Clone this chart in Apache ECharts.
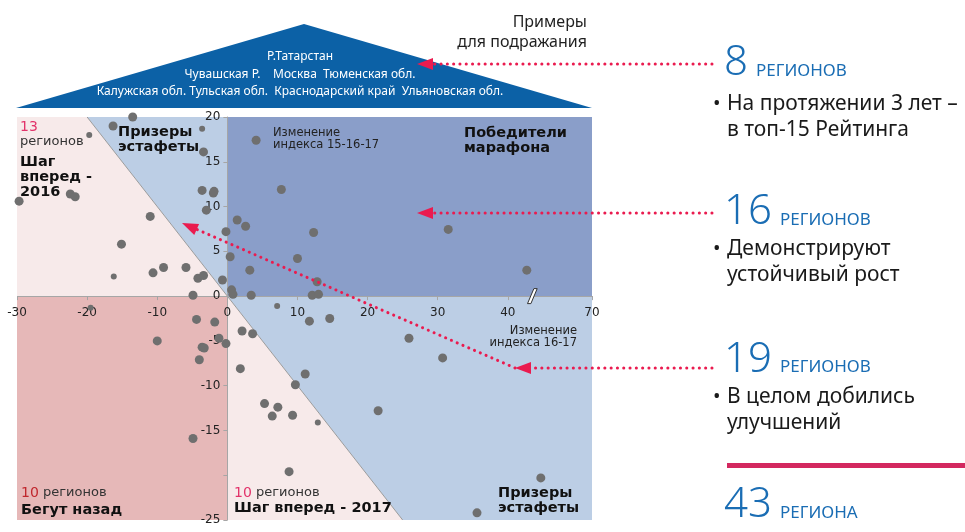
<!DOCTYPE html>
<html>
<head>
<meta charset="utf-8">
<script src="https://cdn.jsdelivr.net/npm/echarts@6/dist/echarts.min.js"></script>
<style>
  html, body { margin: 0; padding: 0; background: #ffffff; }
  #chart { width: 965px; height: 532px; }
</style>
</head>
<body>
<div id="chart"></div>
<script>
// Axis ranges: x = change of the index 2016-17, y = change of the index 2015-16-17
const xRange = [-30, 70];
const xStep = 10;
const xTickValues = [-30, -20, -10, 0, 10, 20, 30, 40, 70];
const yRange = [-25, 20];
const yStep = 5;
const xBreak = [43.5, 61.5];

// One dot per region: [change 16-17, change 15-16-17]
const regionDots = [
  [-13.5, 20.0], [-16.3, 19.0], [-3.4, 16.1], [4.1, 17.4], [-29.7, 10.6],
  [-22.4, 11.4], [-21.7, 11.1], [-3.6, 11.8], [-2.0, 11.5], [-1.9, 11.7],
  [7.7, 11.9], [-3.0, 9.6], [-11.0, 8.9], [1.4, 8.5], [2.6, 7.8],
  [-0.2, 7.2], [12.3, 7.1], [-15.1, 5.8], [0.4, 4.4], [10.0, 4.2],
  [-10.6, 2.6], [-9.1, 3.2], [-5.9, 3.2], [-4.2, 2.0], [-3.4, 2.3],
  [-0.7, 1.8], [3.2, 2.9], [0.6, 0.7], [0.8, 0.2], [3.4, 0.1],
  [-4.9, 0.1], [12.1, 0.1], [13.0, 0.2], [12.8, 1.6], [31.5, 7.45],
  [42.7, 2.9], [-4.4, -2.6], [-1.8, -2.9], [-10.0, -5.0], [-1.2, -4.7],
  [-0.2, -5.3], [-3.6, -5.7], [-3.3, -5.8], [-4.0, -7.1], [2.1, -3.9],
  [3.6, -4.2], [1.85, -8.1], [11.7, -2.8], [11.1, -8.7], [9.7, -9.9],
  [5.3, -12.0], [7.2, -12.4], [6.4, -13.4], [9.3, -13.3], [8.8, -19.6],
  [-4.9, -15.9], [14.6, -2.5], [25.9, -4.7], [30.7, -6.9], [21.5, -12.8],
  [62.7, -20.3], [35.6, -24.2]
];
const regionDotsMinor = [
  [-19.7, 18.0], [-3.6, 18.7], [-16.2, 2.2], [7.1, -1.1], [-19.5, -1.3], [12.9, -14.1]
];

// Background zones in data units
const zoneStep2016 = [[-30, 20], [-20, 20], [0, 0], [-30, 0]];
const zoneRelayTop = [[-20, 20], [0, 20], [0, 0]];
const zoneMarathon = [[0, 20], [70, 20], [70, 0], [0, 0]];
const zoneBackward = [[-30, 0], [0, 0], [0, -25], [-30, -25]];
const zoneStep2017 = [[0, 0], [25, -25], [0, -25]];
const zoneRelayBottom = [[0, 0], [70, 0], [70, -25], [25, -25]];
const diagonal = [[-20, 20], [25, -25]];

// Roof with the model regions
const roofRows = [
  'Р.Татарстан',
  'Чувашская Р.    Москва  Тюменская обл.',
  'Калужская обл. Тульская обл.  Краснодарский край  Ульяновская обл.'
];
const roofTitle = ['Примеры', 'для подражания'];

// Summary column
const groupCounts = ['8', '16', '19', '43'];
const groupUnits = ['РЕГИОНОВ', 'РЕГИОНОВ', 'РЕГИОНОВ', 'РЕГИОНА'];
const groupNotes = [
  ['На протяжении 3 лет –', 'в топ-15 Рейтинга'],
  ['Демонстрируют', 'устойчивый рост'],
  ['В целом добились', 'улучшений']
];

const CRIMSON = '#ea1b4f';
const BLUE = '#1a6db4';
const AXIS_FONT = 'DejaVu Sans';
const TEXT_FONT = 'Noto Sans';
const GRID = { left: 17, right: 373, top: 117, bottom: 12 };
const CAPTION = 14.5;

const chart = echarts.init(document.getElementById('chart'), null, { renderer: 'canvas' });

function zoneSeries(points, fill) {
  return {
    type: 'custom',
    coordinateSystem: 'cartesian2d',
    silent: true,
    z: 1,
    data: [[0, 0]],
    renderItem: function (params, api) {
      return {
        type: 'polygon',
        shape: { points: points.map(function (p) { return api.coord(p); }) },
        style: { fill: fill }
      };
    }
  };
}

const option = {
  animation: false,
  backgroundColor: '#ffffff',
  grid: Object.assign({ outerBoundsMode: 'none', containLabel: false }, GRID),
  xAxis: {
    type: 'value',
    min: xRange[0], max: xRange[1], interval: xStep,
    breaks: [{ start: xBreak[0], end: xBreak[1], gap: 0 }],
    breakArea: { show: false },
    axisLine: { onZero: false, lineStyle: { color: '#a6a6a6', width: 1 } },
    axisTick: { show: true, length: 4, customValues: xTickValues, lineStyle: { color: '#a6a6a6' } },
    axisLabel: {
      color: '#222', fontFamily: AXIS_FONT, fontSize: 12, margin: 11, hideOverlap: false,
      customValues: xTickValues,
      formatter: function (v) { return String(v); }
    },
    splitLine: { show: false },
    z: 5
  },
  yAxis: {
    type: 'value',
    min: yRange[0], max: yRange[1], interval: yStep,
    axisLine: { onZero: false, lineStyle: { color: '#a6a6a6', width: 1 } },
    axisTick: { show: true, length: 4, lineStyle: { color: '#a6a6a6' } },
    axisLabel: {
      color: '#222', fontFamily: AXIS_FONT, fontSize: 12, margin: 7,
      formatter: function (v) { return v === -20 ? '' : String(v); }
    },
    splitLine: { show: false },
    z: 5
  },
  series: [
    zoneSeries(zoneStep2016, '#f7eaea'),
    zoneSeries(zoneRelayTop, '#bccee5'),
    zoneSeries(zoneMarathon, '#8a9ec9'),
    zoneSeries(zoneBackward, '#e6b8b8'),
    zoneSeries(zoneStep2017, '#f7eaea'),
    zoneSeries(zoneRelayBottom, '#bccee5'),
    {
      type: 'line', data: diagonal, symbol: 'none', silent: true, z: 2,
      lineStyle: { color: '#9c9c9c', width: 1 }
    },
    {
      type: 'scatter', data: regionDots, symbolSize: 9, z: 6,
      itemStyle: { color: '#6f6f6f', opacity: 1 }
    },
    {
      type: 'scatter', data: regionDotsMinor, symbolSize: 6, z: 6,
      itemStyle: { color: '#6f6f6f', opacity: 1 }
    }
  ]
};
chart.setOption(option);

// Put both axes through the origin (shifted from the grid edges)
const origin = chart.convertToPixel({ xAxisIndex: 0, yAxisIndex: 0 }, [0, 0]);
chart.setOption({
  xAxis: { offset: origin[1] - (532 - GRID.bottom) },
  yAxis: { offset: GRID.left - origin[0] }
});

// ---- annotations ----
function txt(x, y, text, size, opts) {
  opts = opts || {};
  return {
    type: 'text', x: x, y: y, z: 20, silent: true,
    style: {
      text: text,
      fill: opts.color || '#1a1a1a',
      font: (opts.weight || 'normal') + ' ' + size + 'px "' + (opts.family || AXIS_FONT) + '"',
      align: opts.align || 'left',
      verticalAlign: 'middle',
      rich: opts.rich
    }
  };
}
function dotted(x1, y1, x2, y2) {
  return {
    type: 'line', z: 25, silent: true,
    shape: { x1: x1, y1: y1, x2: x2, y2: y2 },
    style: { stroke: CRIMSON, lineWidth: 3, lineDash: [0.1, 6.2], lineCap: 'round' }
  };
}
function arrowHead(tipX, tipY, dirX, dirY) {
  const len = Math.hypot(dirX, dirY);
  const ux = dirX / len, uy = dirY / len;
  const L = 16, W = 6;
  const bx = tipX - ux * L, by = tipY - uy * L;
  return {
    type: 'polygon', z: 26, silent: true,
    shape: { points: [[tipX, tipY], [bx - uy * W, by + ux * W], [bx + uy * W, by - ux * W]] },
    style: { fill: CRIMSON }
  };
}

const g = [];

// roof
g.push({
  type: 'polygon', z: 10, silent: true,
  shape: { points: [[16, 108], [592, 108], [304, 24]] },
  style: { fill: '#0c61a6' }
});
const roofY = [57, 75, 92];
roofRows.forEach(function (row, i) {
  g.push(txt(300, roofY[i], row, 12, { color: '#ffffff', family: TEXT_FONT, align: 'center' }));
});
g.push(txt(587, 22, roofTitle[0], 16, { family: TEXT_FONT, align: 'right', color: '#1f1f1f' }));
g.push(txt(587, 42, roofTitle[1], 16, { family: TEXT_FONT, align: 'right', color: '#1f1f1f' }));

// zone captions
const bold = { weight: 'bold', color: '#111' };
g.push(txt(20, 127, '13', 14, { color: '#e2336a' }));
g.push(txt(20, 142, 'регионов', 13, { color: '#333' }));
g.push(txt(20, 162, 'Шаг', CAPTION, bold));
g.push(txt(20, 177, 'вперед -', CAPTION, bold));
g.push(txt(20, 192, '2016', CAPTION, bold));

g.push(txt(118, 132, 'Призеры', CAPTION, bold));
g.push(txt(118, 147, 'эстафеты', CAPTION, bold));

g.push(txt(273, 133, 'Изменение', 11.5, { color: '#222' }));
g.push(txt(273, 145, 'индекса 15-16-17', 11.5, { color: '#222' }));

g.push(txt(464, 133, 'Победители', CAPTION, bold));
g.push(txt(464, 148, 'марафона', CAPTION, bold));

g.push(txt(577, 331, 'Изменение', 11.5, { color: '#222', align: 'right' }));
g.push(txt(577, 343, 'индекса 16-17', 11.5, { color: '#222', align: 'right' }));

g.push(txt(498, 493, 'Призеры', CAPTION, bold));
g.push(txt(498, 508, 'эстафеты', CAPTION, bold));

g.push(txt(21, 493, '{a|10} {b|регионов}', 13, {
  rich: {
    a: { fill: '#c0272d', font: '14px "' + AXIS_FONT + '"' },
    b: { fill: '#333', font: '13px "' + AXIS_FONT + '"' }
  }
}));
g.push(txt(21, 510, 'Бегут назад', CAPTION, bold));

g.push(txt(234, 493, '{a|10} {b|регионов}', 13, {
  rich: {
    a: { fill: '#e2336a', font: '14px "' + AXIS_FONT + '"' },
    b: { fill: '#333', font: '13px "' + AXIS_FONT + '"' }
  }
}));
g.push(txt(234, 508, 'Шаг вперед - 2017', CAPTION, bold));

// summary column
const countY = [63, 212, 360, 505];
const unitY = [71.5, 220, 367, 513];
const unitX = [756, 780, 780, 780];
groupCounts.forEach(function (c, i) {
  g.push(txt(724, countY[i], c, 42, { family: TEXT_FONT, color: BLUE, weight: 300 }));
  g.push(txt(unitX[i], unitY[i], groupUnits[i], 17, { family: TEXT_FONT, color: BLUE }));
});
const noteY = [104, 249, 397];
groupNotes.forEach(function (lines, i) {
  g.push(txt(713, noteY[i], '•', 20, { family: TEXT_FONT, color: '#1a1a1a' }));
  g.push(txt(727, noteY[i], lines[0], 21, { family: TEXT_FONT, color: '#1a1a1a' }));
  g.push(txt(727, noteY[i] + 26, lines[1], 21, { family: TEXT_FONT, color: '#1a1a1a' }));
});
g.push({
  type: 'rect', z: 20, silent: true,
  shape: { x: 727, y: 463, width: 238, height: 5 },
  style: { fill: '#d3285f' }
});

// pointer arrows
g.push(dotted(712, 64, 430, 64), arrowHead(417, 64, -1, 0));
g.push(dotted(712, 213, 430, 213), arrowHead(417, 213, -1, 0));
g.push(dotted(712, 368, 528, 368), arrowHead(515, 368, -1, 0));
g.push(dotted(515, 368, 196, 229), arrowHead(182, 223, -333, -145));

// axis break mark
const bp = chart.convertToPixel({ xAxisIndex: 0, yAxisIndex: 0 }, [xBreak[0], 0]);
g.push({
  type: 'polygon', z: 30, silent: true,
  shape: { points: [[bp[0] - 4.9, bp[1] + 7.5], [bp[0] - 1.5, bp[1] + 7.5], [bp[0] + 4.8, bp[1] - 7.5], [bp[0] + 1.5, bp[1] - 7.5]] },
  style: { fill: '#ffffff', stroke: '#333', lineWidth: 1 }
});

chart.setOption({ graphic: { elements: g } });
</script>
</body>
</html>
